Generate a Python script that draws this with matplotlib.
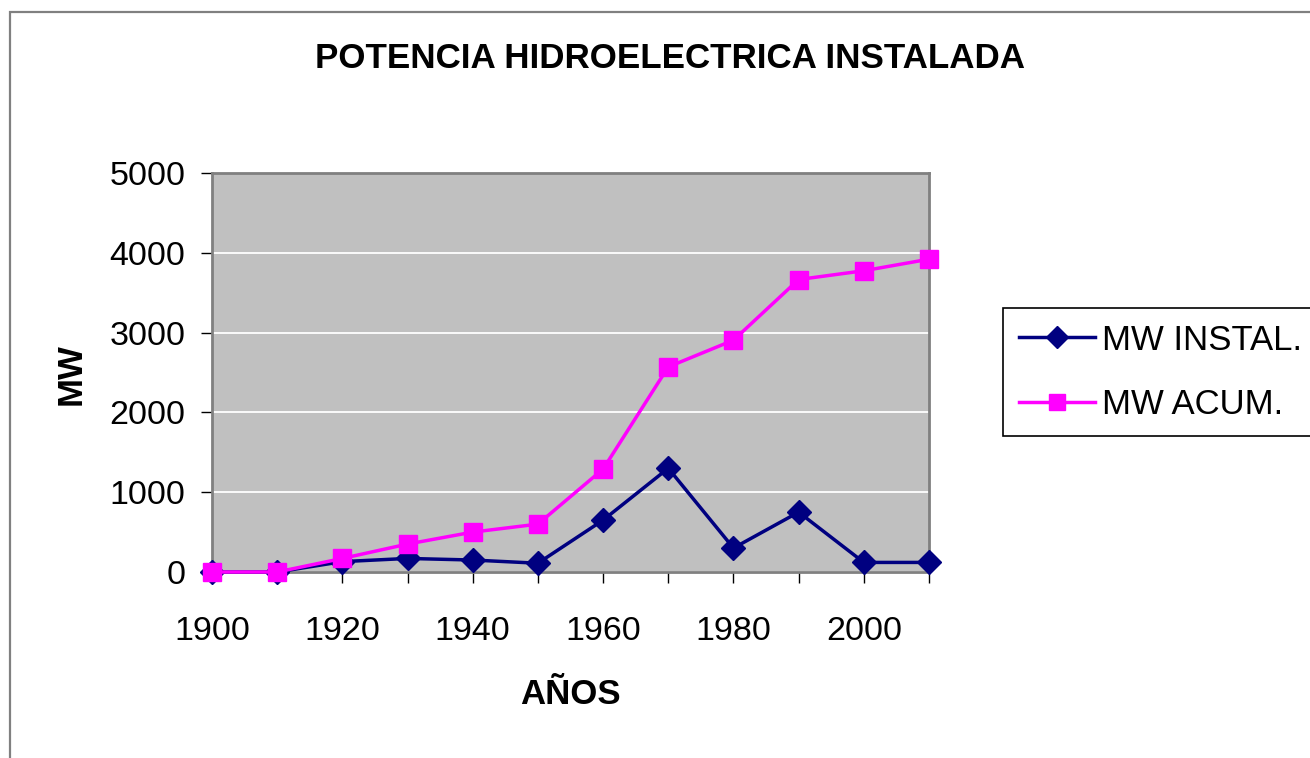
import matplotlib
matplotlib.use("Agg")
import matplotlib.pyplot as plt
from matplotlib.patches import Rectangle

# datos
years = [1900, 1910, 1920, 1930, 1940, 1950, 1960, 1970, 1980, 1990, 2000, 2010]
mw_instal = [0, 0, 130, 170, 150, 110, 650, 1300, 300, 750, 120, 120]
mw_acum = [0, 0, 170, 350, 500, 600, 1290, 2570, 2905, 3665, 3775, 3920]
y_ticks = [0, 1000, 2000, 3000, 4000, 5000]
x_ticks = [1900, 1920, 1940, 1960, 1980, 2000]

plt.rcParams['font.family'] = ['Liberation Sans', 'DejaVu Sans']

W, H = 1310, 758
fig = plt.figure(figsize=(W / 100, H / 100), dpi=100)

# borde del area del grafico (estilo Excel)
fig.patches.append(Rectangle((10 / W, -0.1), 1.2, 1 - 12 / H + 0.1,
                             transform=fig.transFigure, fill=False,
                             edgecolor='#808080', linewidth=1.6))

ax = fig.add_axes([212 / W, 1 - 572 / H, (929 - 212) / W, (572 - 173) / H])
ax.set_facecolor('#C0C0C0')

l1, = ax.plot(years, mw_instal, color='#000080', lw=2.5, marker='D',
              markersize=12, clip_on=False, zorder=3)
l2, = ax.plot(years, mw_acum, color='#FF00FF', lw=2.5, marker='s',
              markersize=12.5, clip_on=False, zorder=4)

ax.set_xlim(1900, 2010)
ax.set_ylim(0, 5000)
ax.set_yticks(y_ticks)
ax.set_xticks(years, minor=True)
ax.set_xticks(x_ticks)
ax.set_xticklabels([str(v) for v in x_ticks])
ax.yaxis.grid(True, color='white', lw=1.3)
ax.set_axisbelow(True)

ax.tick_params(axis='both', which='both', direction='out', length=8, width=1,
               color='black', labelsize=24.5)
ax.tick_params(axis='y', pad=11)
ax.tick_params(axis='x', pad=24)
ax.tick_params(axis='x', which='minor', length=8)

for s in ax.spines.values():
    s.set_color('#808080')
    s.set_linewidth(2)

fig.text(670 / W, 1 - 58 / H, 'POTENCIA HIDROELECTRICA INSTALADA',
         ha='center', va='center', fontsize=25.2, fontweight='bold')
fig.text(570 / W, 1 - 694 / H, 'AÑOS', ha='center', va='center',
         fontsize=25, fontweight='bold')
fig.text(71 / W, 1 - 374 / H, 'MW', ha='center', va='center',
         fontsize=25, fontweight='bold', rotation=90)

leg = fig.legend([l1, l2], ['MW INSTAL.', 'MW ACUM.'], loc='upper left',
                 bbox_to_anchor=(1003 / W, 1 - 308 / H), borderaxespad=0,
                 fontsize=25, frameon=True, fancybox=False, shadow=False,
                 numpoints=1, handlelength=2.2, handletextpad=0.2,
                 labelspacing=0.9, borderpad=0.45)
leg.get_frame().set_edgecolor('black')
leg.get_frame().set_linewidth(1.2)
leg.get_frame().set_alpha(1)
for h in leg.legend_handles:
    h.set_markersize(11)

fig.savefig('out.png', dpi=100)
